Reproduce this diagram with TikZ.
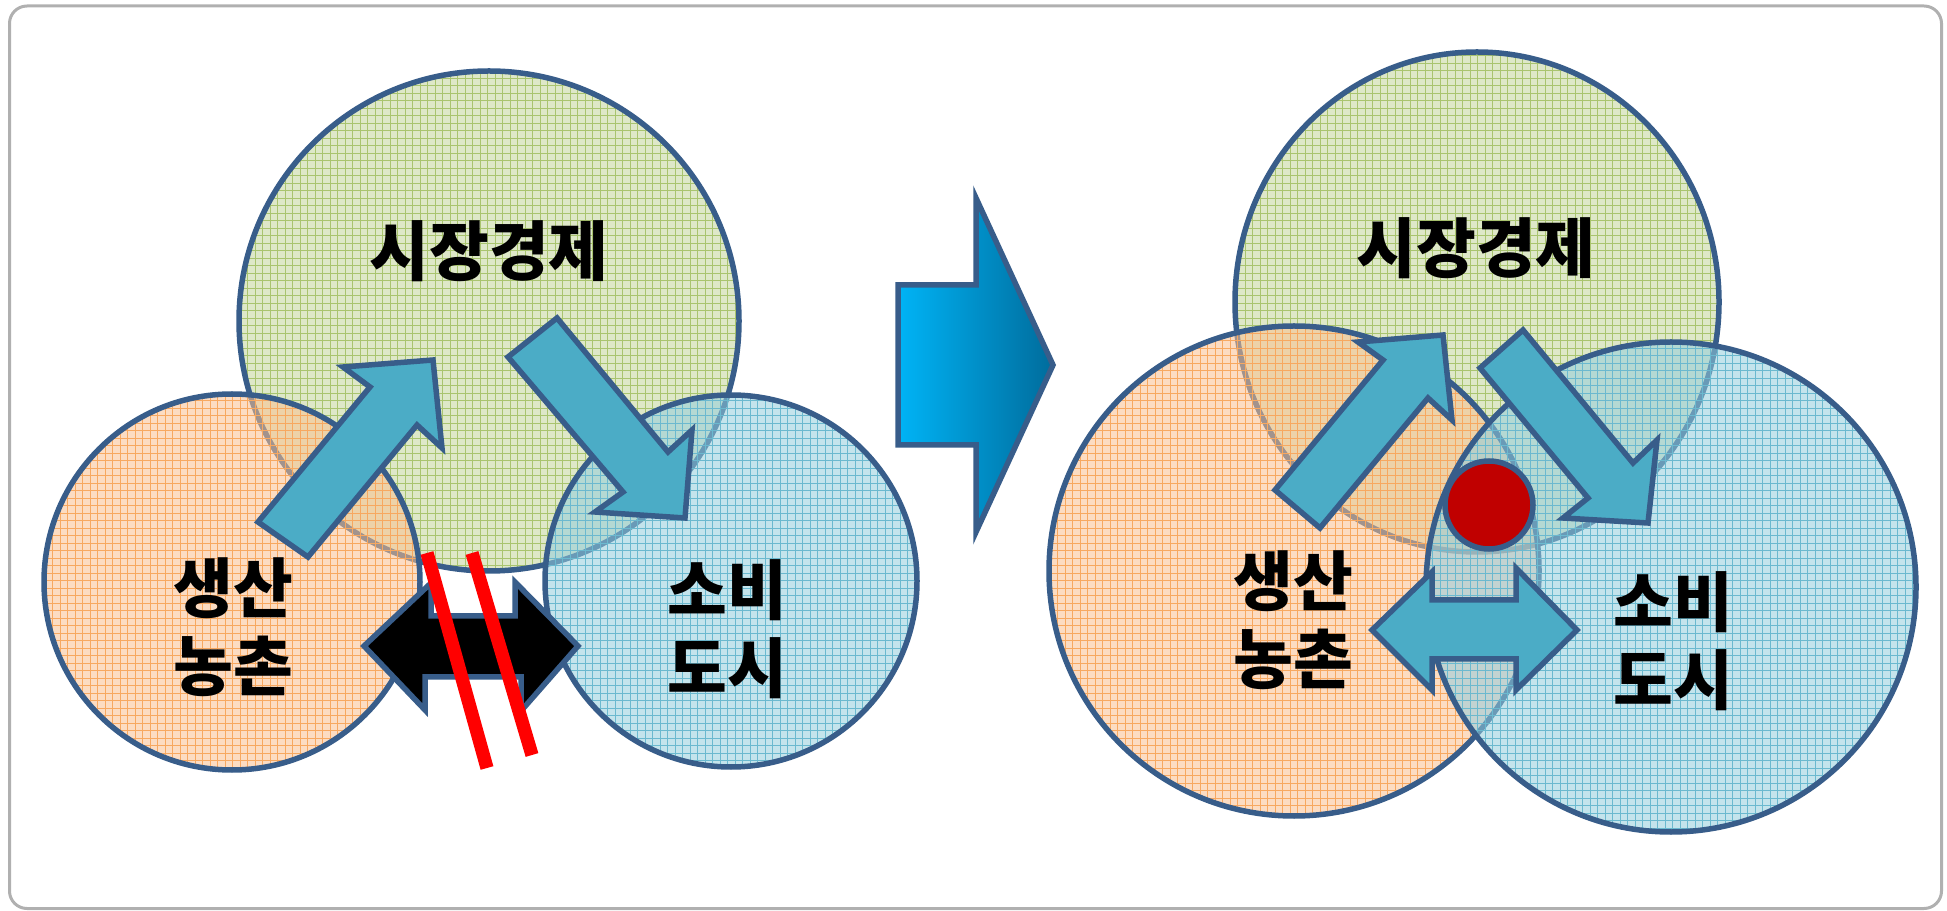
\documentclass[tikz,border=0pt]{standalone}
\usepackage{fontspec}
\newfontfamily\kr{Noto Sans CJK KR}
\usetikzlibrary{patterns}
\definecolor{bordc}{HTML}{385D8A}
\definecolor{gfill}{HTML}{C3D69B}
\definecolor{ggrid}{HTML}{A9C46F}
\definecolor{ofill}{HTML}{FAC090}
\definecolor{ogrid}{HTML}{F7A860}
\definecolor{bfill}{HTML}{93CDDD}
\definecolor{bgrid}{HTML}{6BB9CF}
\definecolor{arrfill}{HTML}{4BACC6}
\definecolor{dotred}{HTML}{C00000}
\definecolor{lightcyan}{HTML}{00B4F6}
\definecolor{darkcyan}{HTML}{006C9C}
\definecolor{framegray}{HTML}{B0B0B0}
\newcommand\mydisc[4]{%
  \fill[#1, fill opacity=0.55] #3 circle[#4];
  \fill[pattern=grid, pattern color=#2, fill opacity=0.28] #3 circle[#4];
  \draw[bordc, line width=2.2pt] #3 circle[#4];
}
\tikzset{
  blockarrow/.style={fill=arrfill, draw=bordc, line width=2.2pt, line join=miter},
  lbl/.style={font=\kr\bfseries\fontsize{26}{31}\selectfont, align=center, text=black, inner sep=0pt},
  strike/.style={draw=red, line width=5.3pt}
}
\begin{document}
\begin{tikzpicture}[x=0.4pt,y=-0.4pt]
\useasboundingbox (0,0) rectangle (1947,911);
\draw[framegray, line width=1.2pt, rounded corners=7pt] (9.5,6) rectangle (1941.5,908.5);

% ---------- left diagram ----------
\mydisc{gfill}{ggrid}{(489,321)}{radius=250}
\mydisc{ofill}{ogrid}{(232,582)}{radius=188}
\mydisc{bfill}{bgrid}{(731,581)}{radius=186}

% up-right arrow
\path[blockarrow] (258,522) -- (370,387) -- (343,367) -- (433,360) -- (442,448) -- (417,425) -- (308,557) -- cycle;
% down-right arrow
\path[blockarrow] (557,318) -- (668,452) -- (692,430) -- (685,518) -- (595,512) -- (623,492) -- (508,357) -- cycle;
% black double arrow
\path[fill=black, draw=bordc, line width=2.2pt, line join=miter]
  (364,646) -- (431,583) -- (431,616) -- (515,616) -- (515,582) -- (578,646)
  -- (521,711) -- (521,677) -- (425,677) -- (425,710) -- cycle;
% red strike lines
\coordinate (s1a) at (427,553); \coordinate (s1b) at (487,768);
\coordinate (s2a) at (472,553); \coordinate (s2b) at (532,755);
\draw[strike] (s1a) -- (s1b);
\draw[strike] (s2a) -- (s2b);

\node[lbl] (mkL) at (489,251) {시장경제};
\node[lbl] (prodL) at (233,627) {생산\\농촌};
\node[lbl] (consL) at (727,629) {소비\\도시};

% ---------- middle arrow ----------
\path[draw=bordc, line width=2.2pt, line join=miter, left color=lightcyan, right color=darkcyan]
  (898,285) -- (976,285) -- (976,198) -- (1053,365) -- (976,532) -- (976,445) -- (898,445) -- cycle;

% ---------- right diagram ----------
\mydisc{gfill}{ggrid}{(1477,302)}{x radius=242, y radius=250}
\mydisc{ofill}{ogrid}{(1294,571)}{radius=245}
\mydisc{bfill}{bgrid}{(1671,587)}{radius=245}

% up-right arrow
\path[blockarrow] (1275,490) -- (1383,360) -- (1358,342) -- (1443,335) -- (1452,420) -- (1428,398) -- (1320,528) -- cycle;
% down-right arrow
\path[blockarrow] (1523,330) -- (1633,463) -- (1657,440) -- (1648,523) -- (1563,518) -- (1588,498) -- (1480,368) -- cycle;
% red dot
\node[circle, fill=dotred, draw=bordc, line width=2.2pt, minimum size=88*0.4pt, inner sep=0pt] (dot) at (1489,505) {};
% double arrow
\path[blockarrow] (1372,630) -- (1432,572) -- (1432,600) -- (1516,600) -- (1516,568) -- (1577,630)
  -- (1516,690) -- (1516,659) -- (1432,659) -- (1432,690) -- cycle;

\node[lbl] (mkR) at (1476,248) {시장경제};
\node[lbl] (prodR) at (1293,620) {생산\\농촌};
\node[lbl] (consR) at (1673,641) {소비\\도시};
\end{tikzpicture}
\end{document}
